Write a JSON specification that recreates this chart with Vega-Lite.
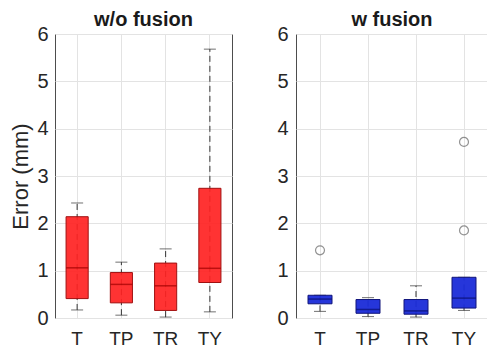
{
  "$schema": "https://vega.github.io/schema/vega-lite/v6.json",
  "padding": {"left": 9, "top": 9, "right": 0, "bottom": 0},
  "datasets": {
    "box": [
      {"panel": "wo", "cat": "T", "lo": 0.17, "q1": 0.41, "med": 1.06, "q3": 2.14, "hi": 2.43},
      {"panel": "wo", "cat": "TP", "lo": 0.06, "q1": 0.32, "med": 0.71, "q3": 0.96, "hi": 1.18},
      {"panel": "wo", "cat": "TR", "lo": 0.02, "q1": 0.16, "med": 0.68, "q3": 1.16, "hi": 1.46},
      {"panel": "wo", "cat": "TY", "lo": 0.13, "q1": 0.75, "med": 1.05, "q3": 2.74, "hi": 5.68},
      {"panel": "w", "cat": "T", "lo": 0.14, "q1": 0.3, "med": 0.4, "q3": 0.48, "hi": 0.48},
      {"panel": "w", "cat": "TP", "lo": 0.03, "q1": 0.1, "med": 0.18, "q3": 0.39, "hi": 0.43},
      {"panel": "w", "cat": "TR", "lo": 0.02, "q1": 0.08, "med": 0.15, "q3": 0.39, "hi": 0.68},
      {"panel": "w", "cat": "TY", "lo": 0.16, "q1": 0.21, "med": 0.42, "q3": 0.86, "hi": 0.86}
    ],
    "out": [
      {"panel": "w", "cat": "T", "v": 1.43},
      {"panel": "w", "cat": "TY", "v": 1.85},
      {"panel": "w", "cat": "TY", "v": 3.72}
    ]
  },
  "config": {
    "font": "Liberation Sans",
    "view": {"stroke": "#4d4d4d", "strokeWidth": 1},
    "axis": {
      "labelFont": "Liberation Sans",
      "labelFontSize": 20,
      "labelColor": "#262626",
      "domain": false,
      "ticks": false,
      "gridColor": "#e3e3e3",
      "gridWidth": 1,
      "titleFont": "Liberation Sans",
      "titleFontWeight": "normal",
      "titleColor": "#262626"
    },
    "title": {"font": "Liberation Sans", "fontSize": 20, "fontWeight": "bold", "color": "#1a1a1a", "offset": -6}
  },
  "spacing": 43,
  "hconcat": [
    {
      "title": "w/o fusion",
      "width": 177,
      "height": 284,
      "layer": [
        {
          "data": {"name": "box"},
          "transform": [{"filter": "datum.panel === 'wo'"}],
          "mark": {"type": "rule", "strokeDash": [6, 4], "color": "#333", "strokeWidth": 1},
          "encoding": {
            "x": {"field": "cat", "type": "nominal", "scale": {"domain": ["T", "TP", "TR", "TY"], "paddingInner": 0, "paddingOuter": 0}, "axis": {"title": null, "labelAngle": 0, "labelPadding": 11, "labelFontSize": 19, "grid": true, "bandPosition": 0.5}},
            "y": {"field": "lo", "type": "quantitative", "scale": {"domain": [0, 6], "nice": false}, "axis": {"title": "Error (mm)", "values": [0, 1, 2, 3, 4, 5, 6], "titleFontSize": 22, "titlePadding": 4, "labelPadding": 7, "grid": true}},
            "y2": {"field": "hi"}
          }
        },
        {
          "data": {"name": "box"},
          "transform": [{"filter": "datum.panel === 'wo'"}],
          "mark": {"type": "tick", "color": "#333", "size": 12, "thickness": 1},
          "encoding": {"x": {"field": "cat", "type": "nominal"}, "y": {"field": "lo", "type": "quantitative"}}
        },
        {
          "data": {"name": "box"},
          "transform": [{"filter": "datum.panel === 'wo'"}],
          "mark": {"type": "tick", "color": "#333", "size": 12, "thickness": 1},
          "encoding": {"x": {"field": "cat", "type": "nominal"}, "y": {"field": "hi", "type": "quantitative"}}
        },
        {
          "data": {"name": "box"},
          "transform": [{"filter": "datum.panel === 'wo'"}],
          "mark": {"type": "bar", "width": {"band": 0.5}, "fill": "#ff2222", "fillOpacity": 0.92, "stroke": "#a01010", "strokeWidth": 1},
          "encoding": {"x": {"field": "cat", "type": "nominal"}, "y": {"field": "q1", "type": "quantitative"}, "y2": {"field": "q3"}}
        },
        {
          "data": {"name": "box"},
          "transform": [{"filter": "datum.panel === 'wo'"}],
          "mark": {"type": "tick", "color": "#a00000", "size": 22, "thickness": 1.5},
          "encoding": {"x": {"field": "cat", "type": "nominal"}, "y": {"field": "med", "type": "quantitative"}}
        }
      ]
    },
    {
      "title": "w fusion",
      "width": 192,
      "height": 284,
      "layer": [
        {
          "data": {"name": "box"},
          "transform": [{"filter": "datum.panel === 'w'"}],
          "mark": {"type": "rule", "strokeDash": [6, 4], "color": "#333", "strokeWidth": 1},
          "encoding": {
            "x": {"field": "cat", "type": "nominal", "scale": {"domain": ["T", "TP", "TR", "TY"], "paddingInner": 0, "paddingOuter": 0}, "axis": {"title": null, "labelAngle": 0, "labelPadding": 11, "labelFontSize": 19, "grid": true, "bandPosition": 0.5}},
            "y": {"field": "lo", "type": "quantitative", "scale": {"domain": [0, 6], "nice": false}, "axis": {"title": null, "values": [0, 1, 2, 3, 4, 5, 6], "labelPadding": 8, "grid": true}},
            "y2": {"field": "hi"}
          }
        },
        {
          "data": {"name": "box"},
          "transform": [{"filter": "datum.panel === 'w'"}],
          "mark": {"type": "tick", "color": "#333", "size": 12, "thickness": 1},
          "encoding": {"x": {"field": "cat", "type": "nominal"}, "y": {"field": "lo", "type": "quantitative"}}
        },
        {
          "data": {"name": "box"},
          "transform": [{"filter": "datum.panel === 'w'"}],
          "mark": {"type": "tick", "color": "#333", "size": 12, "thickness": 1},
          "encoding": {"x": {"field": "cat", "type": "nominal"}, "y": {"field": "hi", "type": "quantitative"}}
        },
        {
          "data": {"name": "box"},
          "transform": [{"filter": "datum.panel === 'w'"}],
          "mark": {"type": "bar", "width": {"band": 0.5}, "fill": "#1a2bd8", "fillOpacity": 0.95, "stroke": "#10147a", "strokeWidth": 1},
          "encoding": {"x": {"field": "cat", "type": "nominal"}, "y": {"field": "q1", "type": "quantitative"}, "y2": {"field": "q3"}}
        },
        {
          "data": {"name": "box"},
          "transform": [{"filter": "datum.panel === 'w'"}],
          "mark": {"type": "tick", "color": "#0a0f70", "size": 24, "thickness": 1.5},
          "encoding": {"x": {"field": "cat", "type": "nominal"}, "y": {"field": "med", "type": "quantitative"}}
        },
        {
          "data": {"name": "out"},
          "mark": {"type": "point", "shape": "circle", "filled": false, "stroke": "#666", "strokeWidth": 1.2, "size": 80},
          "encoding": {"x": {"field": "cat", "type": "nominal"}, "y": {"field": "v", "type": "quantitative"}}
        }
      ]
    }
  ]
}
